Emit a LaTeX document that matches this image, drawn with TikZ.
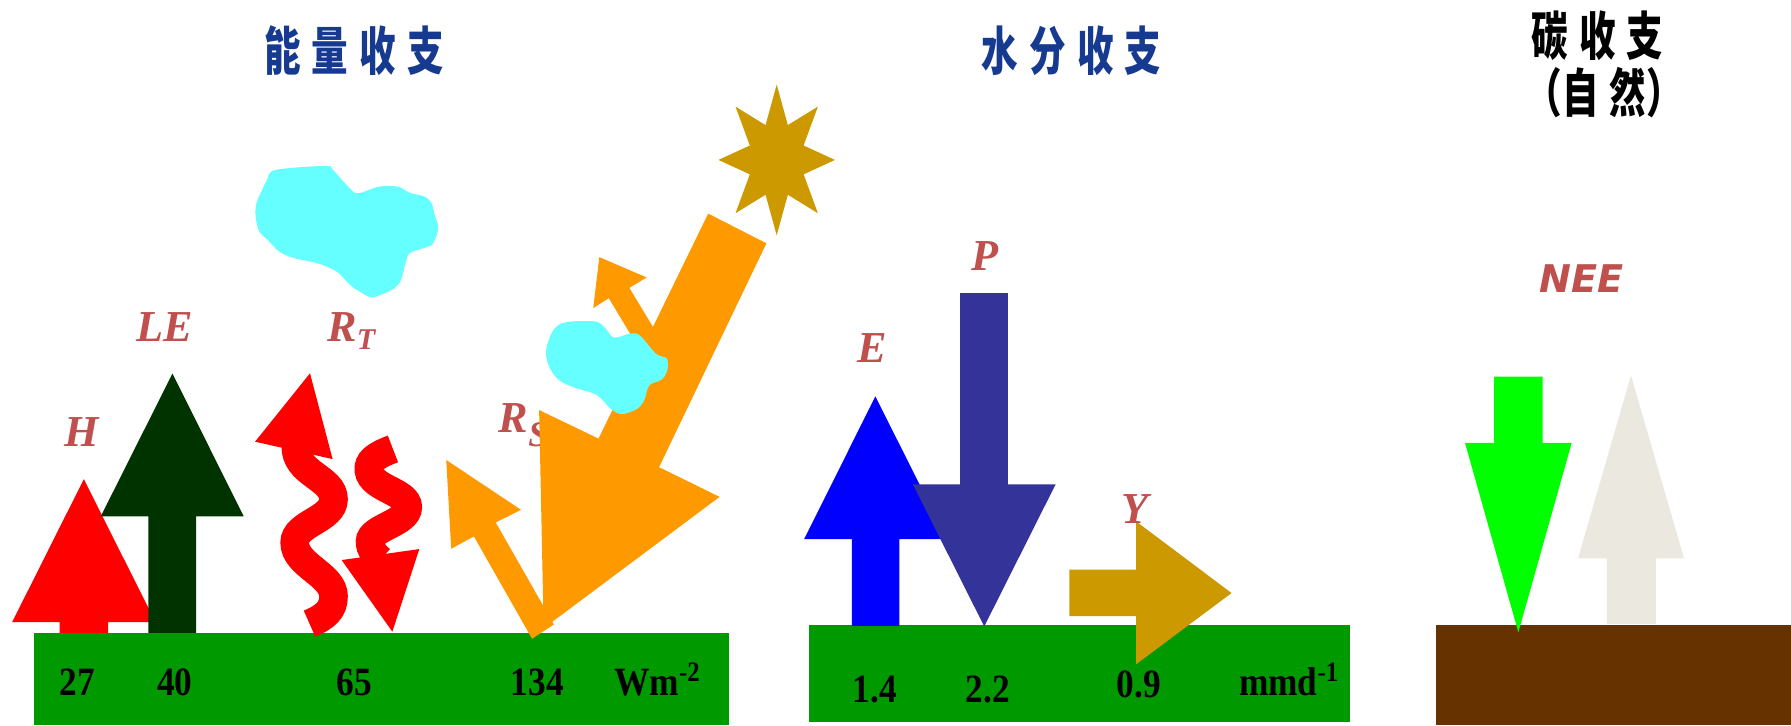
\documentclass[tikz,border=0pt]{standalone}
\usepackage{fontspec}
\setmainfont{Liberation Serif}
\newfontfamily\cjkfont{Noto Sans CJK SC}
\newfontfamily\neefont{DejaVu Sans}
\definecolor{titleblue}{RGB}{23,58,145}
\definecolor{labelred}{RGB}{192,80,77}
\definecolor{fluxred}{RGB}{255,0,0}
\definecolor{ledark}{RGB}{0,51,0}
\definecolor{solarorange}{RGB}{255,153,0}
\definecolor{sungold}{RGB}{204,153,0}
\definecolor{grass}{RGB}{0,153,0}
\definecolor{soil}{RGB}{102,51,0}
\definecolor{rainblue}{RGB}{51,51,153}
\definecolor{evapblue}{RGB}{0,0,255}
\definecolor{uptake}{RGB}{0,255,0}
\definecolor{release}{RGB}{235,233,223}
\definecolor{cloudcyan}{RGB}{102,255,255}
\begin{document}
\begin{tikzpicture}[x=0.01cm, y=-0.01cm,
  cjktitle/.style={font=\cjkfont\bfseries\fontsize{13}{15}\selectfont, xscale=0.7, inner sep=0pt},
  fluxlabel/.style={text=labelred, font=\fontsize{11}{13}\selectfont\bfseries\itshape, inner sep=0pt, anchor=base west},
  valuetext/.style={font=\fontsize{10}{12}\selectfont\bfseries, xscale=0.88, inner sep=0pt, anchor=base},
  wave/.style={draw=fluxred, line width=0.25cm},
  cloud/.style={fill=cloudcyan}]
\useasboundingbox (0,0) rectangle (1568,635);

% ---------- titles ----------
\node[cjktitle, text=titleblue] (tenergy) at (310,44) {能\hspace{4pt}量\hspace{4pt}收\hspace{4pt}支};
\node[cjktitle, text=titleblue] (twater) at (938,44.5) {水\hspace{4pt}分\hspace{4pt}收\hspace{4pt}支};
\node[cjktitle, text=black] (tcarbon) at (1398.5,31.5) {碳\hspace{4pt}收\hspace{4pt}支};
\node[cjktitle, text=black] (tnature) at (1404.5,81) {（自\hspace{4pt}然）};

% ---------- ground surfaces ----------
\fill[grass] (30,554) rectangle (638,635);
\fill[grass] (708,547) rectangle (1182,632);
\fill[soil] (1257,547) rectangle (1568,635);

% ---------- energy budget ----------
% sensible heat H
\fill[fluxred] (73.4,419.5) -- (136.2,544.7) -- (94.6,544.7) -- (94.6,554) -- (52.2,554)
  -- (52.2,544.7) -- (10.6,544.7) -- cycle;
% latent heat LE
\fill[ledark] (151,327) -- (213.4,452.1) -- (171.8,452.1) -- (171.8,554) -- (129.8,554)
  -- (129.8,452.1) -- (88.2,452.1) -- cycle;
% long-wave radiation R_T: upward wave
\draw[wave] (259,390) .. controls (258,415) and (292,418) .. (292,437)
  .. controls (292,455) and (258,458) .. (258,475)
  .. controls (258,495) and (292,503) .. (292,522)
  .. controls (292,534) and (285,540) .. (271,546);
\fill[fluxred] (271.4,326.8) -- (291.2,401.9) -- (223.3,386.7) -- cycle;
% long-wave radiation R_T: downward wave
\draw[wave] (344,393) .. controls (328,399) and (322,404) .. (323,412)
  .. controls (325,428) and (357,430) .. (357,444)
  .. controls (357,458) and (324,462) .. (324,474)
  .. controls (324,481) and (328,486) .. (333,490);
\fill[fluxred] (299.1,490.3) -- (367.1,480.7) -- (343.5,553) -- cycle;

% short-wave radiation R_S
\node[fluxlabel] (rs) at (436,379) {R\raisebox{-3.3pt}{\fontsize{9}{9}\selectfont S}};
\fill[solarorange] (524.7,225.1) -- (566.2,242.9) -- (551,252) -- (580,300) -- (566,316)
  -- (533,261) -- (519.4,269.7) -- cycle;
\fill[solarorange] (390.7,402.7) -- (456.1,446.3) -- (434,457.4) -- (484.9,546.7)
  -- (465.8,559.2) -- (414.9,469.6) -- (395,480.4) -- cycle;
\fill[solarorange] (620,187) -- (671,213) -- (577,409) -- (630,435) -- (476,550)
  -- (472,359) -- (524,384) -- cycle;

% clouds
\fill[cloud] plot[smooth cycle, tension=0.55] coordinates {
  (496,282) (521,281.4) (529.7,287.1) (537.6,295.5) (551.6,292.1) (560.3,293.8)
  (574.4,309.8) (583.7,313.9) (584.3,323.9) (579.3,332.3) (568.5,337.3) (563.9,350.7)
  (557.4,358.1) (544.3,362.5) (534.1,357.4) (522.4,345.7) (501.9,339) (488.8,332.3)
  (481.5,322.3) (478,310.5) (480,298.8) (485.9,287.1)};
\fill[cloud] plot[smooth cycle, tension=0.55] coordinates {
  (241.2,148.8) (284.8,145.3) (291.5,148.8) (304.9,163.4) (313.2,169.2) (331.7,163.4)
  (348.4,163.4) (358.5,168.7) (371.9,172.2) (377.9,178) (380.2,186.8) (383.6,198.4)
  (381.9,207.2) (377.9,214.5) (370.2,217.4) (358.5,221.8) (355.1,230.5) (351.1,245.1)
  (345.1,252.4) (335,257.4) (325,260.3) (314.9,255.3) (306.5,249.5) (294.8,237.8)
  (278.1,230.5) (258,226.1) (244.6,220.3) (234.5,210.1) (227.1,202.8) (223.8,189.7)
  (224.5,178) (229.5,166.3) (233.8,157.6)};

% sun
\fill[sungold] (680,74) \foreach \k in {1,...,15} {
  -- ({680+(isodd(\k)?0.5:1)*51*sin(22.5*\k)}, {140-(isodd(\k)?0.5:1)*66*cos(22.5*\k)}) } -- cycle;

% flux labels
\node[fluxlabel] (lh) at (55.6,391) {H};
\node[fluxlabel] (lle) at (119,299) {LE};
\node[fluxlabel] (lrt) at (286,299) {R\raisebox{-2pt}{\fontsize{7.5}{7.5}\selectfont T}};

% values
\node[valuetext] (v27) at (67.6,609) {27};
\node[valuetext] (v40) at (153,609) {40};
\node[valuetext] (v65) at (310,609) {65};
\node[valuetext] (v134) at (470.5,609) {134};
\node[valuetext] (uenergy) at (576,609) {Wm\textsuperscript{-2}};

% ---------- water budget ----------
\fill[evapblue] (766.4,347) -- (829,472) -- (787.5,472) -- (787.5,548) -- (745.7,548)
  -- (745.7,472) -- (704,472) -- cycle;
\fill[rainblue] (840.6,256.6) -- (882.4,256.6) -- (882.4,424) -- (924.2,424)
  -- (861.7,548.4) -- (799.2,424) -- (840.6,424) -- cycle;
\fill[sungold] (936.2,498.6) -- (994.7,498.6) -- (994.7,456.5) -- (1078.2,519.2)
  -- (994.7,581.5) -- (994.7,539.5) -- (936.2,539.5) -- cycle;
\node[fluxlabel] (le) at (749.7,317.7) {E};
\node[fluxlabel] (lp) at (850,236.7) {P};
\node[fluxlabel] (ly) at (981.3,458.1) {Y};
\node[valuetext] (v14) at (765.8,615) {1.4};
\node[valuetext] (v22) at (864.9,615) {2.2};
\node[valuetext] (v09) at (997,611) {0.9};
\node[valuetext] (uwater) at (1129,609) {mmd\textsuperscript{-1}};

% ---------- carbon budget ----------
\fill[uptake] (1308,329.8) -- (1350.6,329.8) -- (1350.6,387.7) -- (1376,387.7)
  -- (1329.3,553.6) -- (1282.6,387.7) -- (1308,387.7) -- cycle;
\fill[release] (1427.9,328.6) -- (1474.4,488.9) -- (1449.8,488.9) -- (1449.8,546.3)
  -- (1406.7,546.3) -- (1406.7,488.9) -- (1381.5,488.9) -- cycle;
\node[inner sep=0pt, anchor=base west, text=labelred,
  font=\neefont\bfseries\itshape\fontsize{9.5}{11}\selectfont] (lnee) at (1346.8,255.8) {NEE};
\end{tikzpicture}
\end{document}
